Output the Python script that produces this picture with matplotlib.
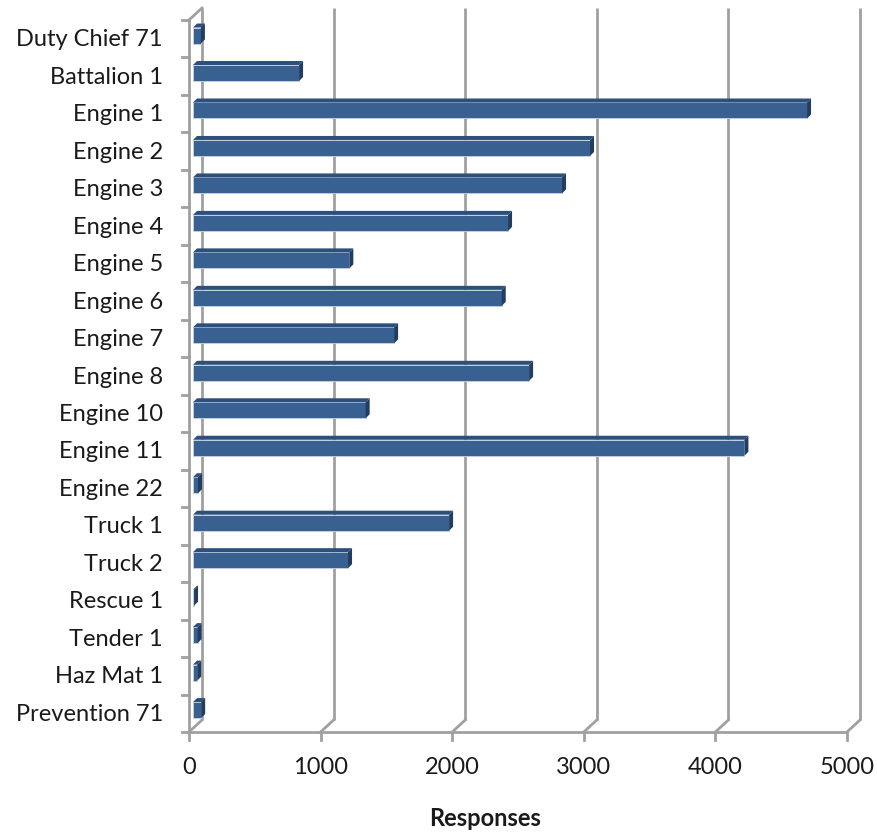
import numpy as np
import matplotlib
matplotlib.use("Agg")
import matplotlib.pyplot as plt
from matplotlib.patches import Polygon

units = ["Duty Chief 71", "Battalion 1", "Engine 1", "Engine 2", "Engine 3",
         "Engine 4", "Engine 5", "Engine 6", "Engine 7", "Engine 8",
         "Engine 10", "Engine 11", "Engine 22", "Truck 1", "Truck 2",
         "Rescue 1", "Tender 1", "Haz Mat 1", "Prevention 71"]
responses = [60, 806, 4666, 3017, 2804, 2394, 1188, 2346, 1528, 2554,
             1312, 4190, 38, 1946, 1178, 8, 35, 32, 62]
x_ticks = [0, 1000, 2000, 3000, 4000, 5000]
x_title = "Responses"

W, H = 878, 833
fig = plt.figure(figsize=(W / 100, H / 100), dpi=100)
# plot area of the front plane, in pixels
px_left, px_right, px_top, px_bottom = 189, 847, 20, 732
ax = fig.add_axes([px_left / W, 1 - px_bottom / H,
                   (px_right - px_left) / W, (px_bottom - px_top) / H])
n = len(units)
ax.set_xlim(0, 5000)
ax.set_ylim(n - 0.5, -0.5)
ax.axis("off")

# pixel -> data helpers for the fake 3D depth
sx = 5000 / (px_right - px_left)
sy = n / (px_bottom - px_top)
def dx(p):
    return p * sx
def dy(p):
    return p * sy

grid_c = "#a0a0a0"
txt_c = "#1a1a1a"
lw = 2.0
back_x, back_y = 13, 12   # offset of the back wall
top_y = -0.5 - dy(back_y)
for t in x_ticks:
    # back wall gridline
    ax.plot([t + dx(back_x)] * 2, [n - 0.5 - dy(back_y), top_y],
            color=grid_c, lw=lw, clip_on=False, solid_capstyle="butt")
    # floor diagonal
    ax.plot([t, t + dx(back_x)], [n - 0.5, n - 0.5 - dy(back_y)],
            color=grid_c, lw=lw, clip_on=False)
    # tick mark
    ax.plot([t, t], [n - 0.5, n - 0.5 + dy(8)], color=grid_c, lw=lw, clip_on=False)
    ax.text(t, n - 0.5 + dy(36), f"{t}", ha="center", va="center",
            fontsize=17, family="Lato", color=txt_c)

# floor front edge and left front axis
ax.plot([0, 5000], [n - 0.5, n - 0.5], color=grid_c, lw=lw, clip_on=False)
ax.plot([0, 0], [-0.5, n - 0.5], color=grid_c, lw=lw, clip_on=False)
ax.plot([0, dx(back_x)], [-0.5, top_y], color=grid_c, lw=lw, clip_on=False)
for b in np.arange(-0.5, n, 1.0):
    ax.plot([0, -dx(7)], [b, b], color=grid_c, lw=lw, clip_on=False)

# bars: front face + top face + end cap
front_c = "#386192"
top_c = "#2c4f7c"
side_c = "#223d60"
x0 = dx(4)
yc = np.arange(n) - dy(3.2)
h = dy(16)
cdx, cdy = dx(4), dy(4)
ax.barh(yc, responses, left=x0, height=h, color=front_c,
        edgecolor="#c9d4e4", linewidth=0.6, zorder=3)
for y, v in zip(yc, responses):
    ytop = y - h / 2
    ybot = y + h / 2
    ax.add_patch(Polygon([(x0, ytop), (x0 + v, ytop), (x0 + v + cdx, ytop - cdy),
                          (x0 + cdx, ytop - cdy)], closed=True,
                         facecolor=top_c, edgecolor="none", zorder=3))
    ax.add_patch(Polygon([(x0 + v, ytop), (x0 + v, ybot),
                          (x0 + v + cdx, ybot - cdy), (x0 + v + cdx, ytop - cdy)],
                         closed=True, facecolor=side_c, edgecolor="none", zorder=3))

for i, name in enumerate(units):
    ax.text(-dx(26), i + dy(1), name, ha="right", va="center",
            fontsize=17, family="Lato", color=txt_c)

fig.text(485 / W, 1 - 819 / H, x_title, ha="center", va="center",
         fontsize=17, fontweight="bold", family="Lato", color=txt_c)

fig.savefig("out.png", dpi=100)
